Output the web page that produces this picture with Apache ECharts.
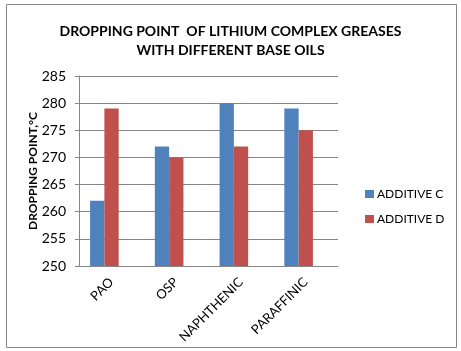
<!DOCTYPE html>
<html>
<head>
<meta charset="utf-8">
<script src="https://cdn.jsdelivr.net/npm/echarts@6/dist/echarts.min.js"></script>
<style>
html, body { margin: 0; padding: 0; background: #fff; }
#chart { width: 461px; height: 351px; }
</style>
</head>
<body>
<div id="chart"></div>
<script>
// data
var baseOils = ['PAO', 'OSP', 'NAPHTHENIC', 'PARAFFINIC'];
var additiveC = [262, 272, 280, 279];
var additiveD = [279, 270, 272, 275];
var seriesNames = ['ADDITIVE C', 'ADDITIVE D'];

var myChart = echarts.init(document.getElementById('chart'));
var font = 'Lato';
var lineColor = '#868686';

option = {
	animation: false,
	textStyle: { fontFamily: font },
	title: {
		text: 'DROPPING POINT  OF LITHIUM COMPLEX GREASES\nWITH DIFFERENT BASE OILS',
		left: 'center',
		top: 17,
		textStyle: { fontFamily: font, fontSize: 14, fontWeight: 'bold', color: '#000', lineHeight: 19 }
	},
	graphic: [{
		type: 'rect',
		shape: { x: 6.5, y: 4.5, width: 450, height: 343 },
		style: { fill: null, stroke: lineColor, lineWidth: 1 },
		silent: true
	}],
	legend: {
		orient: 'vertical',
		left: 360,
		top: 183,
		itemWidth: 9,
		itemHeight: 8,
		itemGap: 13,
		icon: 'rect',
		data: seriesNames,
		textStyle: { fontFamily: font, fontSize: 12, color: '#000', padding: [0, 0, 0, -2] }
	},
	grid: [
		// frame: gridlines, axes and category labels
		{ left: 79, right: 123, top: 76, bottom: 85 },
		// bars (Excel shifts them a bit left of the label positions)
		{ left: 72, right: 130, top: 76, bottom: 85 }
	],
	xAxis: [{
		gridIndex: 0,
		type: 'category',
		data: baseOils,
		axisLine: { lineStyle: { color: lineColor } },
		axisTick: { show: false },
		axisLabel: { rotate: 45, margin: 14, fontFamily: font, fontSize: 13, color: '#000' }
	}, {
		gridIndex: 1,
		type: 'category',
		data: baseOils,
		show: false
	}],
	yAxis: [{
		gridIndex: 0,
		type: 'value',
		min: 250,
		max: 285,
		interval: 5,
		name: 'DROPPING POINT,°C',
		nameLocation: 'middle',
		nameGap: 40,
		nameMoveOverlap: false,
		nameTextStyle: { fontFamily: font, fontSize: 12, fontWeight: 'bold', color: '#000' },
		axisLine: { show: true, lineStyle: { color: lineColor } },
		axisTick: { show: true, length: 4, lineStyle: { color: lineColor } },
		axisLabel: { margin: 13, fontFamily: font, fontSize: 14, color: '#000' },
		splitLine: { lineStyle: { color: lineColor } }
	}, {
		gridIndex: 1,
		type: 'value',
		min: 250,
		max: 285,
		interval: 5,
		show: false
	}],
	series: [{
		name: seriesNames[0],
		type: 'bar',
		xAxisIndex: 1,
		yAxisIndex: 1,
		data: additiveC,
		barWidth: 14.3,
		barGap: '0%',
		itemStyle: { color: '#4F81BD' }
	}, {
		name: seriesNames[1],
		type: 'bar',
		xAxisIndex: 1,
		yAxisIndex: 1,
		data: additiveD,
		barWidth: 14.3,
		barGap: '0%',
		itemStyle: { color: '#C0504D' }
	}]
};

myChart.setOption(option);
</script>
</body>
</html>
